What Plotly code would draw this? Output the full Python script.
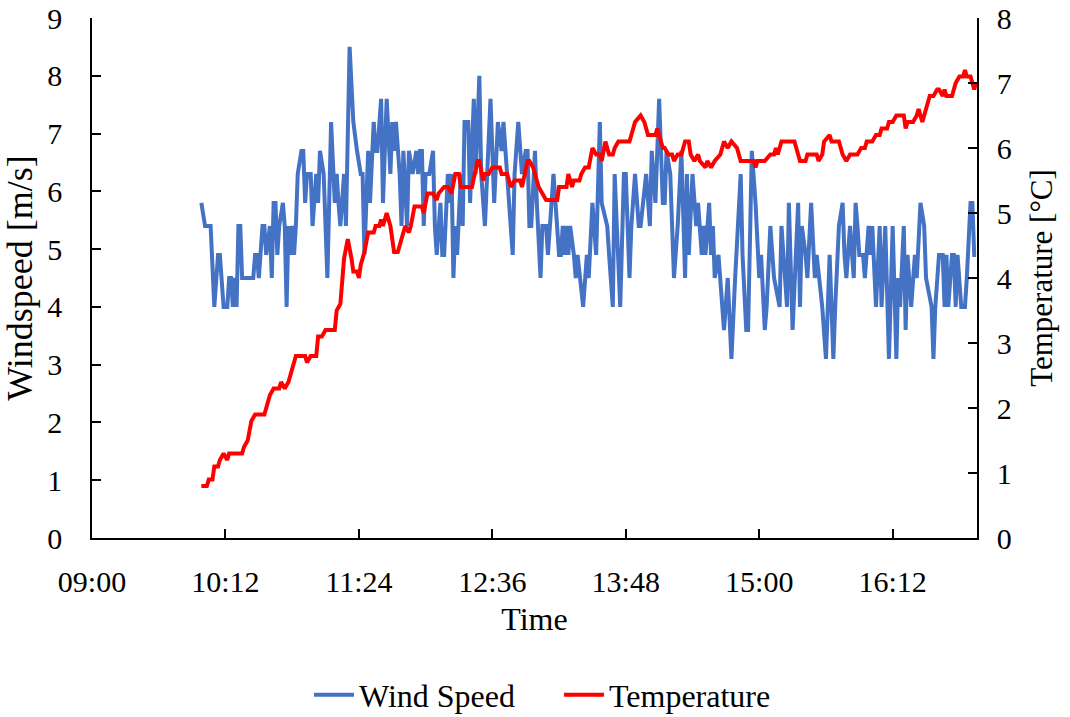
import plotly.graph_objects as go
import pandas as pd

# ---- data ----
wind_time = ["09:59","10:01","10:04","10:06","10:08","10:09","10:11","10:13","10:14","10:15","10:16","10:17","10:18","10:19","10:20","10:21","10:27","10:28","10:29","10:30","10:32","10:33","10:34","10:36","10:37","10:38","10:39","10:40","10:41","10:43","10:44","10:45","10:46","10:47","10:48","10:49","10:50","10:51","10:53","10:54","10:55","10:56","10:58",
"10:59","11:01","11:02","11:03","11:05","11:07","11:09","11:11","11:12","11:13","11:14","11:16","11:17","11:19","11:21","11:23","11:25","11:26","11:27","11:29","11:30","11:32","11:33","11:34","11:36","11:37","11:39","11:41","11:42","11:43","11:44","11:46","11:47","11:48","11:50","11:51","11:53","11:55","11:56","11:57","11:58",
"11:59","12:00","12:02","12:04","12:05","12:06","12:08","12:09","12:10","12:12","12:13","12:14","12:15","12:16","12:17","12:19","12:20","12:21","12:23","12:24","12:26","12:27","12:29","12:30","12:32","12:35","12:36","12:37","12:39","12:41","12:42","12:44","12:46","12:47","12:48","12:50","12:52","12:54","12:55","12:56",
"12:57","12:59","13:00","13:02","13:03","13:05","13:06","13:07","13:09","13:12","13:13","13:14","13:15","13:16","13:17","13:18","13:20","13:21","13:22","13:25","13:27","13:28","13:30","13:32","13:34","13:35","13:38","13:39","13:41","13:42","13:44","13:45","13:47","13:48","13:50","13:51","13:53","13:55",
"13:56","13:59","14:01","14:02","14:04","14:06","14:08","14:09","14:10","14:12","14:14","14:16","14:18","14:20","14:21","14:22","14:24","14:26","14:27","14:29","14:30","14:31","14:33","14:34","14:35","14:36","14:38","14:41","14:43","14:44","14:45","14:47","14:50","14:51","14:53",
"14:54","14:56","14:58","15:00","15:01","15:03","15:04","15:06","15:08","15:11","15:12","15:15","15:16","15:18","15:21","15:22","15:23","15:25","15:26","15:28","15:30","15:31","15:34","15:36","15:38","15:40","15:41","15:43","15:45","15:46","15:47","15:49","15:51","15:52","15:53","15:54",
"15:56","15:57","15:59","16:00","16:01","16:03","16:05","16:06","16:08","16:10","16:12","16:14","16:15","16:16","16:18","16:19","16:20","16:21","16:22","16:24","16:25","16:27","16:29","16:30","16:33","16:34","16:35","16:37","16:39","16:40","16:41","16:42","16:44","16:45","16:46","16:47","16:49","16:51","16:52","16:54","16:55","16:56","16:57"]
wind_speed = [5.8,5.4,5.4,4.0,4.9,4.9,4.0,4.0,4.5,4.5,4.0,4.5,4.0,5.4,5.4,4.5,4.5,4.9,4.9,4.5,5.4,5.4,4.9,5.4,4.5,5.8,5.8,4.9,5.4,5.8,5.4,4.0,5.4,4.9,5.4,4.9,5.4,6.3,6.7,6.7,5.8,6.3,6.3,
5.4,6.3,5.8,6.7,6.3,4.5,7.2,5.8,6.3,5.8,5.4,6.3,5.4,8.5,7.2,6.7,6.3,6.3,4.9,6.7,5.8,7.2,6.7,6.7,7.6,5.8,7.6,6.3,7.2,6.7,7.2,6.3,5.4,6.7,5.4,6.7,6.3,6.7,6.3,6.7,6.7,
5.4,6.3,6.3,6.7,5.4,4.9,5.8,4.9,4.9,6.3,5.8,6.3,4.5,5.4,4.9,6.3,5.4,7.2,7.2,5.8,7.6,6.3,8.0,6.3,5.4,7.6,6.7,5.8,7.2,6.7,7.2,6.3,5.4,4.9,6.3,7.2,6.3,6.7,6.7,5.4,
5.4,6.7,5.8,4.5,5.4,5.4,4.9,5.4,6.3,4.9,4.9,5.4,4.9,5.4,4.9,5.4,4.9,4.5,4.9,4.0,4.9,4.5,5.8,4.9,7.2,5.8,5.4,4.9,4.0,6.3,4.9,4.0,6.3,6.3,4.5,5.4,6.3,5.4,
5.4,6.3,5.4,6.7,5.8,7.6,5.8,5.8,6.7,6.3,4.5,5.4,6.7,4.5,6.3,4.9,6.3,5.4,5.8,4.9,5.4,4.9,5.8,4.9,5.4,4.5,4.9,3.6,4.5,3.6,3.1,4.5,6.3,4.9,3.6,
3.6,6.7,5.8,4.5,4.9,3.6,4.0,5.4,4.5,4.0,5.4,4.0,5.8,3.6,5.8,4.0,5.4,4.9,4.5,5.8,4.5,4.9,4.0,3.1,4.9,3.1,4.0,5.4,5.8,4.9,4.5,5.4,4.5,5.8,5.4,4.9,
4.9,4.5,5.4,4.9,5.4,4.0,5.4,4.0,5.4,3.1,5.4,3.1,4.5,4.0,5.4,3.6,4.9,4.5,4.0,4.9,4.5,5.8,5.4,4.5,4.0,3.1,4.0,4.9,4.9,4.0,4.9,4.0,4.9,4.9,4.0,4.9,4.0,4.0,4.5,5.8,5.8,4.9,4.9]

temp_time = ["09:59","10:02","10:03","10:05","10:06","10:08","10:09","10:11","10:13","10:14","10:21","10:22","10:24","10:26","10:28","10:33","10:36","10:38","10:41","10:42","10:44","10:46","10:49","10:50","10:55","10:56","10:58",
"11:01","11:02","11:04","11:06","11:11","11:12","11:14","11:16","11:18","11:20","11:21","11:23","11:24","11:25","11:27","11:29","11:32","11:33","11:35","11:36","11:37","11:39","11:41","11:43","11:45","11:47","11:49","11:51","11:52","11:54","11:57",
"11:58","11:59","12:01","12:04","12:06","12:07","12:10","12:12","12:14","12:16","12:18","12:19","12:25","12:28","12:29","12:31","12:32","12:34","12:36","12:40","12:41","12:44","12:46","12:48","12:51","12:52","12:55",
"12:56","12:58","13:01","13:03","13:05","13:11","13:12","13:16","13:17","13:19","13:20","13:23","13:24","13:26","13:28","13:30","13:32","13:34","13:35","13:37","13:39","13:41","13:42","13:44","13:50","13:52","13:53","13:56",
"13:58","14:00","14:04","14:05","14:06","14:08","14:09","14:11","14:13","14:14","14:16","14:18","14:20","14:22","14:23","14:25","14:27","14:28","14:31","14:32","14:34","14:36","14:39","14:41","14:43","14:45","14:48","14:50","14:55",
"14:57","14:58","14:59","15:03","15:06","15:08","15:09","15:10","15:12","15:19","15:22","15:25","15:26","15:31","15:32","15:34","15:35","15:38","15:39","15:43","15:45","15:47","15:49","15:53",
"15:55","15:57","15:58","16:01","16:03","16:05","16:06","16:09","16:10","16:12","16:14","16:18","16:19","16:20","16:23","16:25","16:26","16:28","16:30","16:32","16:34","16:36","16:37","16:39","16:40","16:41","16:44","16:45","16:46","16:48","16:50","16:51","16:52","16:54","16:55","16:56","16:57"]
temperature = [0.8,0.8,0.9,0.9,1.1,1.1,1.2,1.3,1.2,1.3,1.3,1.4,1.5,1.8,1.9,1.9,2.2,2.3,2.3,2.4,2.3,2.4,2.7,2.8,2.8,2.7,2.8,
2.8,3.1,3.1,3.2,3.2,3.5,3.6,4.3,4.6,4.3,4.1,4.1,4.0,4.2,4.4,4.7,4.7,4.8,4.8,4.9,4.8,5.0,4.8,4.4,4.4,4.6,4.8,4.7,4.8,5.1,5.1,
5.1,5.0,5.3,5.3,5.2,5.3,5.4,5.4,5.3,5.6,5.6,5.4,5.4,5.8,5.8,5.5,5.6,5.6,5.7,5.7,5.6,5.6,5.4,5.5,5.5,5.4,5.8,
5.8,5.7,5.4,5.3,5.2,5.2,5.4,5.4,5.6,5.4,5.5,5.5,5.6,5.7,5.7,6.0,5.9,5.9,5.8,6.1,5.9,5.9,6.0,6.1,6.1,6.3,6.4,6.5,
6.4,6.2,6.2,6.3,6.2,6.0,6.0,5.9,5.9,5.8,5.9,5.9,6.1,6.1,5.9,5.8,5.9,5.8,5.7,5.8,5.7,5.8,5.9,6.1,6.0,6.1,6.0,5.8,5.8,
5.8,5.7,5.8,5.8,5.9,5.9,6.0,5.9,6.1,6.1,5.8,5.8,5.9,5.9,5.8,5.9,6.1,6.2,6.1,6.1,5.9,5.8,5.9,5.9,
6.0,6.0,6.1,6.1,6.2,6.2,6.3,6.3,6.4,6.4,6.5,6.5,6.3,6.4,6.4,6.5,6.6,6.4,6.6,6.8,6.8,6.9,6.9,6.8,6.9,6.8,6.8,6.9,7.0,7.1,7.1,7.2,7.1,7.1,7.0,6.9,7.0]

tick_labels = ["09:00", "10:12", "11:24", "12:36", "13:48", "15:00", "16:12"]
axis_end = "16:57:30"
DAY = "2024-01-01 "

wt = pd.to_datetime([DAY + t for t in wind_time])
tt = pd.to_datetime([DAY + t for t in temp_time])
tickvals = [DAY + t for t in tick_labels]

FONT = "Liberation Serif"
tickfont = dict(family=FONT, size=30, color="black")

fig = go.Figure()
fig.add_trace(go.Scatter(x=wt, y=wind_speed, mode="lines", name="Wind Speed",
                         line=dict(color="#4472C4", width=4), yaxis="y"))
fig.add_trace(go.Scatter(x=tt, y=temperature, mode="lines", name="Temperature",
                         line=dict(color="#FF0000", width=4), yaxis="y2"))

fig.update_layout(
    width=1070, height=717,
    margin=dict(l=92, r=93, t=18, b=179, autoexpand=False),
    paper_bgcolor="white", plot_bgcolor="white",
    font=dict(family=FONT, size=30, color="black"),
    showlegend=True,
    legend=dict(orientation="h", x=(309 - 92) / 885, xanchor="left", y=-0.302, yanchor="middle",
                font=dict(family=FONT, size=32), itemwidth=40, tracegroupgap=0,
                entrywidth=195, entrywidthmode="pixels"),
    xaxis=dict(type="date", range=[DAY + "09:00", DAY + axis_end],
               tickvals=tickvals, ticktext=tick_labels, tickfont=tickfont,
               ticks="inside", ticklen=9, tickwidth=1.5, tickcolor="black",
               showline=True, linecolor="black", linewidth=1.5,
               showgrid=False, zeroline=False, ticklabelstandoff=16,
               title=dict(text="Time", standoff=11, font=dict(family=FONT, size=32))),
    yaxis=dict(range=[0, 9], dtick=1, ticks="inside", ticklen=9, tickwidth=1.5,
               tickcolor="black", showline=True, linecolor="black", linewidth=1.5,
               showgrid=False, zeroline=False, ticklabelstandoff=22, tickfont=tickfont,
               title=dict(text="Windspeed [m/s]", standoff=4, font=dict(family=FONT, size=36))),
    yaxis2=dict(range=[0, 8], dtick=1, overlaying="y", side="right",
                ticks="inside", ticklen=9, tickwidth=1.5, tickcolor="black",
                showline=True, linecolor="black", linewidth=1.5,
                showgrid=False, zeroline=False, ticklabelstandoff=12, tickfont=tickfont,
                title=dict(text="Temperature [°C]", standoff=20, font=dict(family=FONT, size=31))),
)

fig.write_html("out.html")
